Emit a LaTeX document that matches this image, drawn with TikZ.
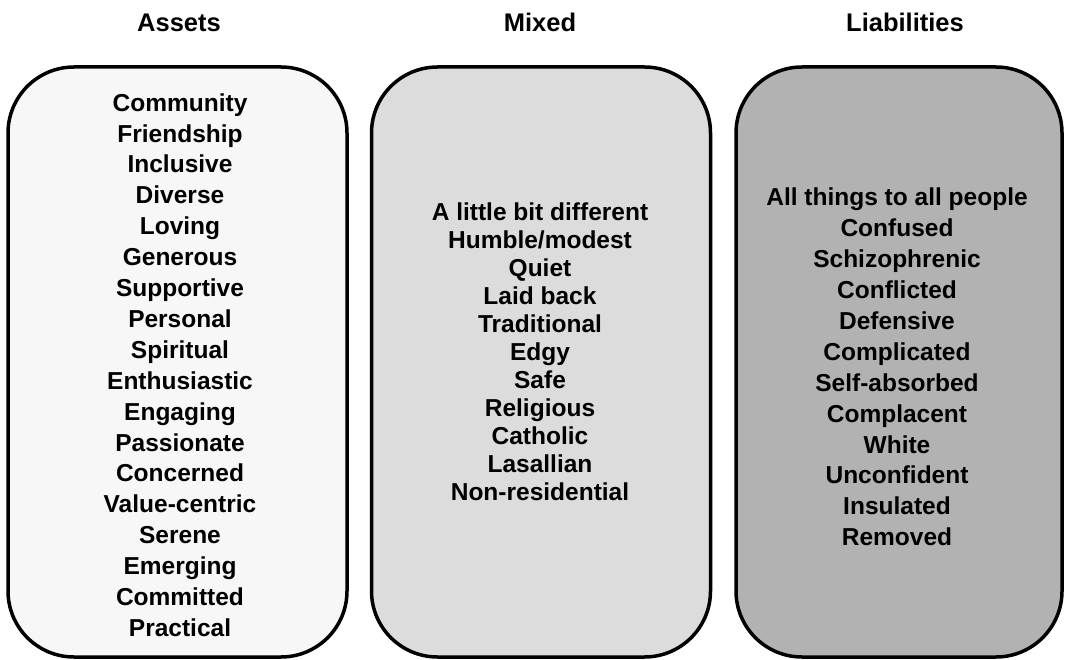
\documentclass[tikz,border=0pt]{standalone}
\usepackage{fontspec}
\setmainfont{Liberation Sans}
\usetikzlibrary{positioning}
\definecolor{assetgray}{HTML}{F7F7F7}
\definecolor{mixedgray}{HTML}{DCDCDC}
\definecolor{liabgray}{HTML}{B2B2B2}

\begin{document}
\begin{tikzpicture}[x=1pt, y=-1pt,
		panel/.style={draw, line width=3.5pt, rounded corners=66pt, minimum height=590pt, inner sep=0pt},
		heading/.style={font=\bfseries\fontsize{25.5}{28}\selectfont},
		wordlist/.style={align=center, font=\bfseries\fontsize{24.5}{30.9}\selectfont}]
				\useasboundingbox (0,0) rectangle (1068,660);

				% Three rounded panels - light to dark
				\node[panel, fill=assetgray, minimum width=339pt] (assets) at (177.5,362) {};
				\node[panel, fill=mixedgray, minimum width=339pt] (mixed) at (541,362) {};
				\node[panel, fill=liabgray, minimum width=326pt] (liabilities) at (899,362) {};

				% Column headings
				\node[heading, anchor=base] (hassets) at (179,32) {Assets};
				\node[heading, anchor=base] (hmixed) at (540,32) {Mixed};
				\node[heading, anchor=base] (hliab) at (905,32) {Liabilities};

				% Words in each panel
				\node[wordlist] (lassets) at (180,365) {Community\\Friendship\\Inclusive\\Diverse\\Loving\\Generous\\Supportive\\Personal\\Spiritual\\Enthusiastic\\Engaging\\Passionate\\Concerned\\Value-centric\\Serene\\Emerging\\Committed\\Practical};
				\node[wordlist, font=\bfseries\fontsize{24.5}{28}\selectfont] (lmixed) at (540,352) {A little bit different\\Humble/modest\\Quiet\\Laid back\\Traditional\\Edgy\\Safe\\Religious\\Catholic\\Lasallian\\Non-residential};
				\node[wordlist] (lliab) at (897,367) {All things to all people\\Confused\\Schizophrenic\\Conflicted\\Defensive\\Complicated\\Self-absorbed\\Complacent\\White\\Unconfident\\Insulated\\Removed};
			\end{tikzpicture}
\end{document}
